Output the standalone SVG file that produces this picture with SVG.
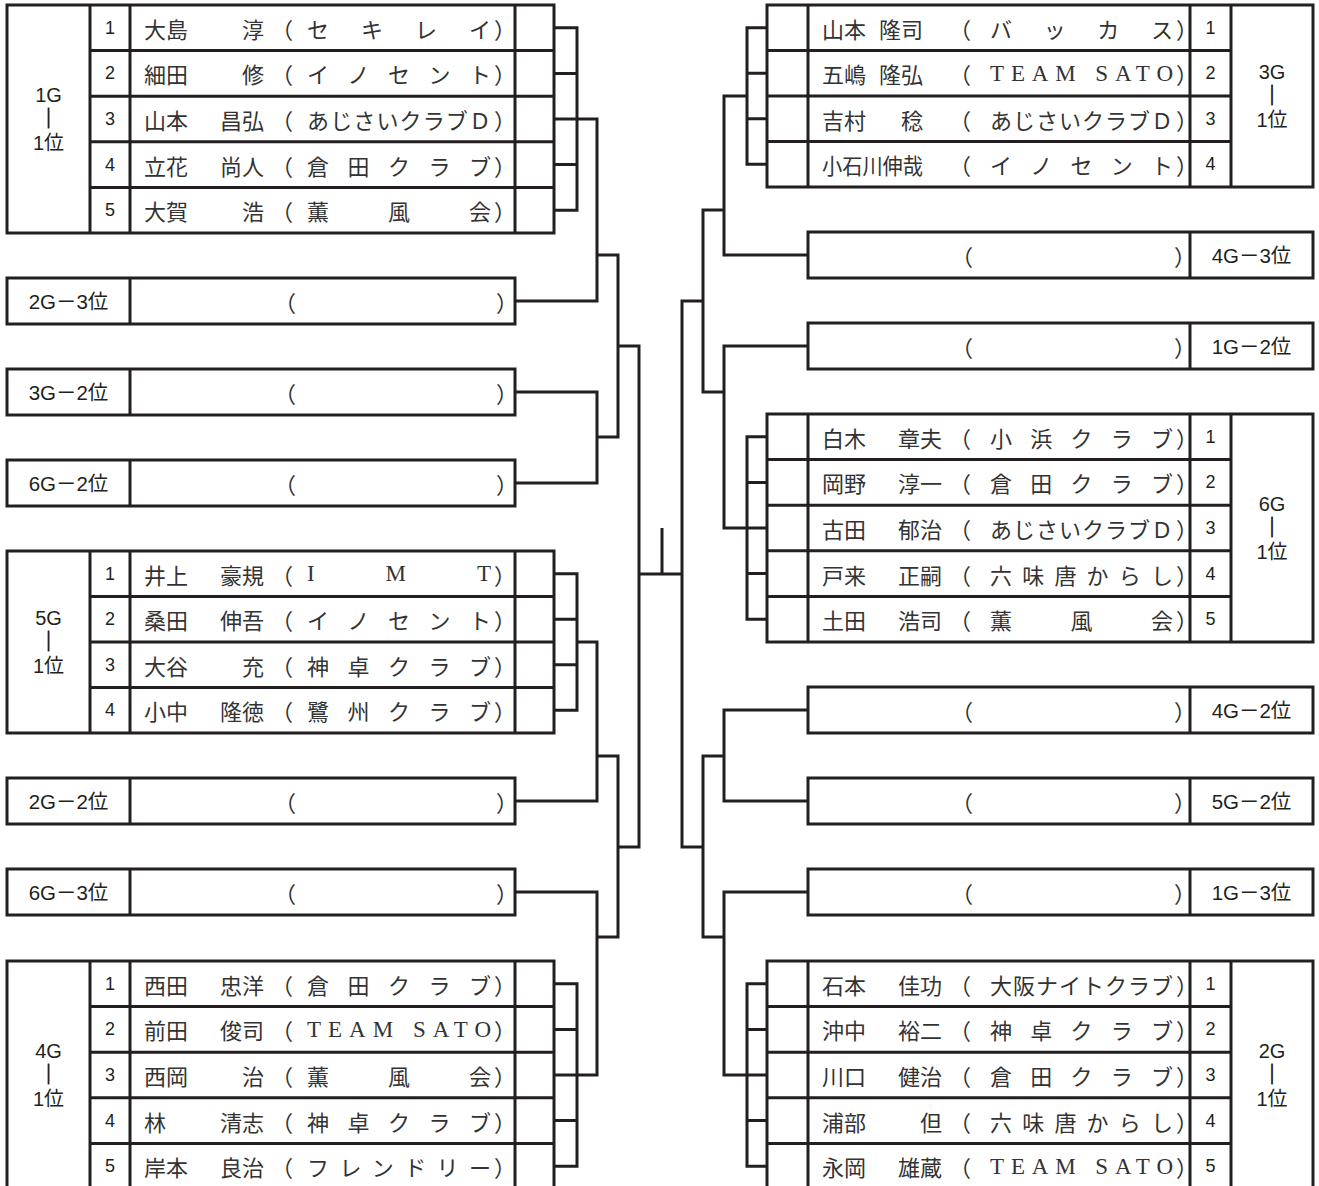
<svg xmlns="http://www.w3.org/2000/svg" width="1319" height="1186" viewBox="0 0 1319 1186">
<style>
.bx{fill:#fff;stroke:#231f20;stroke-width:3}
.ln{fill:none;stroke:#231f20;stroke-width:3}
.nm{font-family:"Noto Sans CJK JP",sans-serif;font-size:22px;fill:#333;dominant-baseline:central}
.e{text-anchor:end}
.lat{font-family:"Liberation Serif","Noto Sans CJK JP",serif;font-size:23px}
.lb{font-family:"Liberation Sans","Noto Sans CJK JP",sans-serif;font-size:20px;fill:#231f20;text-anchor:middle;dominant-baseline:central}
.vb{stroke:#231f20;stroke-width:0.8}
.no{font-size:18px}
.el{font-size:20.5px}
</style>
<rect width="1319" height="1186" fill="#fff"/>
<g id="connectors">
<path class="ln" d="M554,27.8H577V210.2H554M554,73.4H577M554,164.6H577M554,119H597V301H515M597,255H618V437H597M515,392H597V483H515M618,346H639V847H618M639,574H682M662,528V574"/>
<path class="ln" d="M554,573.75H577V710.25H554M554,619.25H577M554,664.75H577M577,642H597V801H515M597,756H618V937H597M515,892H597V1075H554M554,983.8H577V1166.2H554M554,1029.4H577M554,1120.6H577"/>
<path class="ln" d="M767,27.75H747V164.25H767M767,73.25H747M767,118.75H747M747,96H724V255H808M724,210H703V392H724M703,301H682V847H703M808,346H724V528H767M767,436.8H747V619.2H767M767,482.4H747M767,573.6H747"/>
<path class="ln" d="M808,710H724V801H808M724,756H703V937H724M808,892H724V1075H767M767,983.8H747V1166.2H767M767,1029.4H747M767,1120.6H747"/>
</g>
<g id="grp-1G">
<rect class="bx" x="7" y="5" width="547" height="228"/>
<path class="ln" d="M90,5V233M130,5V233M515,5V233M90,50.6H554M90,96.2H554M90,141.8H554M90,187.4H554"/>
<text class="lb" x="48.5" y="95">1G</text><text class="lb vb" x="48.5" y="119">｜</text><text class="lb" x="48.5" y="143">1位</text>
<text class="lb no" x="110" y="27.8">1</text><text class="lb no" x="110" y="73.4">2</text><text class="lb no" x="110" y="119">3</text><text class="lb no" x="110" y="164.6">4</text><text class="lb no" x="110" y="210.2">5</text>
<text class="nm" x="144" y="27.8">大島</text><text class="nm e" x="264" y="27.8">淳</text><text class="nm" x="271" y="27.8">（</text><text class="nm" x="307" y="27.8" textLength="184" lengthAdjust="spacing">セキレイ</text><text class="nm" x="494" y="27.8">）</text>
<text class="nm" x="144" y="73.4">細田</text><text class="nm e" x="264" y="73.4">修</text><text class="nm" x="271" y="73.4">（</text><text class="nm" x="307" y="73.4" textLength="184" lengthAdjust="spacing">イノセント</text><text class="nm" x="494" y="73.4">）</text>
<text class="nm" x="144" y="119">山本</text><text class="nm e" x="264" y="119">昌弘</text><text class="nm" x="271" y="119">（</text><text class="nm" x="307" y="119" textLength="184" lengthAdjust="spacing">あじさいクラブＤ</text><text class="nm" x="494" y="119">）</text>
<text class="nm" x="144" y="164.6">立花</text><text class="nm e" x="264" y="164.6">尚人</text><text class="nm" x="271" y="164.6">（</text><text class="nm" x="307" y="164.6" textLength="184" lengthAdjust="spacing">倉田クラブ</text><text class="nm" x="494" y="164.6">）</text>
<text class="nm" x="144" y="210.2">大賀</text><text class="nm e" x="264" y="210.2">浩</text><text class="nm" x="271" y="210.2">（</text><text class="nm" x="307" y="210.2" textLength="184" lengthAdjust="spacing">薫風会</text><text class="nm" x="494" y="210.2">）</text>
</g>
<g id="slot-2G-3">
<rect class="bx" x="7" y="278" width="508" height="46"/><path class="ln" d="M130,278V324"/>
<text class="lb el" x="68.5" y="301">2G－3位</text><text class="nm" x="274" y="301">（</text><text class="nm" x="496" y="301">）</text>
</g>
<g id="slot-3G-2">
<rect class="bx" x="7" y="369" width="508" height="46"/><path class="ln" d="M130,369V415"/>
<text class="lb el" x="68.5" y="392">3G－2位</text><text class="nm" x="274" y="392">（</text><text class="nm" x="496" y="392">）</text>
</g>
<g id="slot-6G-2">
<rect class="bx" x="7" y="460" width="508" height="46"/><path class="ln" d="M130,460V506"/>
<text class="lb el" x="68.5" y="483">6G－2位</text><text class="nm" x="274" y="483">（</text><text class="nm" x="496" y="483">）</text>
</g>
<g id="grp-5G">
<rect class="bx" x="7" y="551" width="547" height="182"/>
<path class="ln" d="M90,551V733M130,551V733M515,551V733M90,596.5H554M90,642H554M90,687.5H554"/>
<text class="lb" x="48.5" y="618">5G</text><text class="lb vb" x="48.5" y="642">｜</text><text class="lb" x="48.5" y="666">1位</text>
<text class="lb no" x="110" y="573.75">1</text><text class="lb no" x="110" y="619.25">2</text><text class="lb no" x="110" y="664.75">3</text><text class="lb no" x="110" y="710.25">4</text>
<text class="nm" x="144" y="573.75">井上</text><text class="nm e" x="264" y="573.75">豪規</text><text class="nm" x="271" y="573.75">（</text><text class="nm lat" x="307" y="573.75" textLength="184" lengthAdjust="spacing">IMT</text><text class="nm" x="494" y="573.75">）</text>
<text class="nm" x="144" y="619.25">桑田</text><text class="nm e" x="264" y="619.25">伸吾</text><text class="nm" x="271" y="619.25">（</text><text class="nm" x="307" y="619.25" textLength="184" lengthAdjust="spacing">イノセント</text><text class="nm" x="494" y="619.25">）</text>
<text class="nm" x="144" y="664.75">大谷</text><text class="nm e" x="264" y="664.75">充</text><text class="nm" x="271" y="664.75">（</text><text class="nm" x="307" y="664.75" textLength="184" lengthAdjust="spacing">神卓クラブ</text><text class="nm" x="494" y="664.75">）</text>
<text class="nm" x="144" y="710.25">小中</text><text class="nm e" x="264" y="710.25">隆徳</text><text class="nm" x="271" y="710.25">（</text><text class="nm" x="307" y="710.25" textLength="184" lengthAdjust="spacing">鷺州クラブ</text><text class="nm" x="494" y="710.25">）</text>
</g>
<g id="slot-2G-2">
<rect class="bx" x="7" y="778" width="508" height="46"/><path class="ln" d="M130,778V824"/>
<text class="lb el" x="68.5" y="801">2G－2位</text><text class="nm" x="274" y="801">（</text><text class="nm" x="496" y="801">）</text>
</g>
<g id="slot-6G-3">
<rect class="bx" x="7" y="869" width="508" height="46"/><path class="ln" d="M130,869V915"/>
<text class="lb el" x="68.5" y="892">6G－3位</text><text class="nm" x="274" y="892">（</text><text class="nm" x="496" y="892">）</text>
</g>
<g id="grp-4G">
<rect class="bx" x="7" y="961" width="547" height="228"/>
<path class="ln" d="M90,961V1189M130,961V1189M515,961V1189M90,1006.6H554M90,1052.2H554M90,1097.8H554M90,1143.4H554"/>
<text class="lb" x="48.5" y="1051">4G</text><text class="lb vb" x="48.5" y="1075">｜</text><text class="lb" x="48.5" y="1099">1位</text>
<text class="lb no" x="110" y="983.8">1</text><text class="lb no" x="110" y="1029.4">2</text><text class="lb no" x="110" y="1075">3</text><text class="lb no" x="110" y="1120.6">4</text><text class="lb no" x="110" y="1166.2">5</text>
<text class="nm" x="144" y="983.8">西田</text><text class="nm e" x="264" y="983.8">忠洋</text><text class="nm" x="271" y="983.8">（</text><text class="nm" x="307" y="983.8" textLength="184" lengthAdjust="spacing">倉田クラブ</text><text class="nm" x="494" y="983.8">）</text>
<text class="nm" x="144" y="1029.4">前田</text><text class="nm e" x="264" y="1029.4">俊司</text><text class="nm" x="271" y="1029.4">（</text><text class="nm lat" x="307" y="1029.4" textLength="184" lengthAdjust="spacing">TEAM SATO</text><text class="nm" x="494" y="1029.4">）</text>
<text class="nm" x="144" y="1075">西岡</text><text class="nm e" x="264" y="1075">治</text><text class="nm" x="271" y="1075">（</text><text class="nm" x="307" y="1075" textLength="184" lengthAdjust="spacing">薫風会</text><text class="nm" x="494" y="1075">）</text>
<text class="nm" x="144" y="1120.6">林</text><text class="nm e" x="264" y="1120.6">清志</text><text class="nm" x="271" y="1120.6">（</text><text class="nm" x="307" y="1120.6" textLength="184" lengthAdjust="spacing">神卓クラブ</text><text class="nm" x="494" y="1120.6">）</text>
<text class="nm" x="144" y="1166.2">岸本</text><text class="nm e" x="264" y="1166.2">良治</text><text class="nm" x="271" y="1166.2">（</text><text class="nm" x="307" y="1166.2" textLength="184" lengthAdjust="spacing">フレンドリー</text><text class="nm" x="494" y="1166.2">）</text>
</g>
<g id="grp-3G">
<rect class="bx" x="767" y="5" width="546" height="182"/>
<path class="ln" d="M808,5V187M1190,5V187M1231,5V187M767,50.5H1231M767,96H1231M767,141.5H1231"/>
<text class="lb" x="1272" y="72">3G</text><text class="lb vb" x="1272" y="96">｜</text><text class="lb" x="1272" y="120">1位</text>
<text class="lb no" x="1210.5" y="27.75">1</text><text class="lb no" x="1210.5" y="73.25">2</text><text class="lb no" x="1210.5" y="118.75">3</text><text class="lb no" x="1210.5" y="164.25">4</text>
<text class="nm" x="822" y="27.75">山本</text><text class="nm e" x="923" y="27.75">隆司</text><text class="nm" x="949" y="27.75">（</text><text class="nm" x="990" y="27.75" textLength="183" lengthAdjust="spacing">バッカス</text><text class="nm" x="1176" y="27.75">）</text>
<text class="nm" x="822" y="73.25">五嶋</text><text class="nm e" x="923" y="73.25">隆弘</text><text class="nm" x="949" y="73.25">（</text><text class="nm lat" x="990" y="73.25" textLength="183" lengthAdjust="spacing">TEAM SATO</text><text class="nm" x="1176" y="73.25">）</text>
<text class="nm" x="822" y="118.75">吉村</text><text class="nm e" x="923" y="118.75">稔</text><text class="nm" x="949" y="118.75">（</text><text class="nm" x="990" y="118.75" textLength="183" lengthAdjust="spacing">あじさいクラブＤ</text><text class="nm" x="1176" y="118.75">）</text>
<text class="nm" x="822" y="164.25" textLength="101" lengthAdjust="spacingAndGlyphs">小石川伸哉</text><text class="nm" x="949" y="164.25">（</text><text class="nm" x="990" y="164.25" textLength="183" lengthAdjust="spacing">イノセント</text><text class="nm" x="1176" y="164.25">）</text>
</g>
<g id="slot-4G-3">
<rect class="bx" x="808" y="232" width="505" height="46"/><path class="ln" d="M1190,232V278"/>
<text class="lb el" x="1251.5" y="255">4G－3位</text><text class="nm" x="951" y="255">（</text><text class="nm" x="1174" y="255">）</text>
</g>
<g id="slot-1G-2">
<rect class="bx" x="808" y="323" width="505" height="46"/><path class="ln" d="M1190,323V369"/>
<text class="lb el" x="1251.5" y="346">1G－2位</text><text class="nm" x="951" y="346">（</text><text class="nm" x="1174" y="346">）</text>
</g>
<g id="grp-6G">
<rect class="bx" x="767" y="414" width="546" height="228"/>
<path class="ln" d="M808,414V642M1190,414V642M1231,414V642M767,459.6H1231M767,505.2H1231M767,550.8H1231M767,596.4H1231"/>
<text class="lb" x="1272" y="504">6G</text><text class="lb vb" x="1272" y="528">｜</text><text class="lb" x="1272" y="552">1位</text>
<text class="lb no" x="1210.5" y="436.8">1</text><text class="lb no" x="1210.5" y="482.4">2</text><text class="lb no" x="1210.5" y="528">3</text><text class="lb no" x="1210.5" y="573.6">4</text><text class="lb no" x="1210.5" y="619.2">5</text>
<text class="nm" x="822" y="436.8">白木</text><text class="nm e" x="942" y="436.8">章夫</text><text class="nm" x="949" y="436.8">（</text><text class="nm" x="990" y="436.8" textLength="183" lengthAdjust="spacing">小浜クラブ</text><text class="nm" x="1176" y="436.8">）</text>
<text class="nm" x="822" y="482.4">岡野</text><text class="nm e" x="942" y="482.4">淳一</text><text class="nm" x="949" y="482.4">（</text><text class="nm" x="990" y="482.4" textLength="183" lengthAdjust="spacing">倉田クラブ</text><text class="nm" x="1176" y="482.4">）</text>
<text class="nm" x="822" y="528">古田</text><text class="nm e" x="942" y="528">郁治</text><text class="nm" x="949" y="528">（</text><text class="nm" x="990" y="528" textLength="183" lengthAdjust="spacing">あじさいクラブＤ</text><text class="nm" x="1176" y="528">）</text>
<text class="nm" x="822" y="573.6">戸来</text><text class="nm e" x="942" y="573.6">正嗣</text><text class="nm" x="949" y="573.6">（</text><text class="nm" x="990" y="573.6" textLength="183" lengthAdjust="spacing">六味唐からし</text><text class="nm" x="1176" y="573.6">）</text>
<text class="nm" x="822" y="619.2">土田</text><text class="nm e" x="942" y="619.2">浩司</text><text class="nm" x="949" y="619.2">（</text><text class="nm" x="990" y="619.2" textLength="183" lengthAdjust="spacing">薫風会</text><text class="nm" x="1176" y="619.2">）</text>
</g>
<g id="slot-4G-2">
<rect class="bx" x="808" y="687" width="505" height="46"/><path class="ln" d="M1190,687V733"/>
<text class="lb el" x="1251.5" y="710">4G－2位</text><text class="nm" x="951" y="710">（</text><text class="nm" x="1174" y="710">）</text>
</g>
<g id="slot-5G-2">
<rect class="bx" x="808" y="778" width="505" height="46"/><path class="ln" d="M1190,778V824"/>
<text class="lb el" x="1251.5" y="801">5G－2位</text><text class="nm" x="951" y="801">（</text><text class="nm" x="1174" y="801">）</text>
</g>
<g id="slot-1G-3">
<rect class="bx" x="808" y="869" width="505" height="46"/><path class="ln" d="M1190,869V915"/>
<text class="lb el" x="1251.5" y="892">1G－3位</text><text class="nm" x="951" y="892">（</text><text class="nm" x="1174" y="892">）</text>
</g>
<g id="grp-2G">
<rect class="bx" x="767" y="961" width="546" height="228"/>
<path class="ln" d="M808,961V1189M1190,961V1189M1231,961V1189M767,1006.6H1231M767,1052.2H1231M767,1097.8H1231M767,1143.4H1231"/>
<text class="lb" x="1272" y="1051">2G</text><text class="lb vb" x="1272" y="1075">｜</text><text class="lb" x="1272" y="1099">1位</text>
<text class="lb no" x="1210.5" y="983.8">1</text><text class="lb no" x="1210.5" y="1029.4">2</text><text class="lb no" x="1210.5" y="1075">3</text><text class="lb no" x="1210.5" y="1120.6">4</text><text class="lb no" x="1210.5" y="1166.2">5</text>
<text class="nm" x="822" y="983.8">石本</text><text class="nm e" x="942" y="983.8">佳功</text><text class="nm" x="949" y="983.8">（</text><text class="nm" x="990" y="983.8" textLength="183" lengthAdjust="spacing">大阪ナイトクラブ</text><text class="nm" x="1176" y="983.8">）</text>
<text class="nm" x="822" y="1029.4">沖中</text><text class="nm e" x="942" y="1029.4">裕二</text><text class="nm" x="949" y="1029.4">（</text><text class="nm" x="990" y="1029.4" textLength="183" lengthAdjust="spacing">神卓クラブ</text><text class="nm" x="1176" y="1029.4">）</text>
<text class="nm" x="822" y="1075">川口</text><text class="nm e" x="942" y="1075">健治</text><text class="nm" x="949" y="1075">（</text><text class="nm" x="990" y="1075" textLength="183" lengthAdjust="spacing">倉田クラブ</text><text class="nm" x="1176" y="1075">）</text>
<text class="nm" x="822" y="1120.6">浦部</text><text class="nm e" x="942" y="1120.6">但</text><text class="nm" x="949" y="1120.6">（</text><text class="nm" x="990" y="1120.6" textLength="183" lengthAdjust="spacing">六味唐からし</text><text class="nm" x="1176" y="1120.6">）</text>
<text class="nm" x="822" y="1166.2">永岡</text><text class="nm e" x="942" y="1166.2">雄蔵</text><text class="nm" x="949" y="1166.2">（</text><text class="nm lat" x="990" y="1166.2" textLength="183" lengthAdjust="spacing">TEAM SATO</text><text class="nm" x="1176" y="1166.2">）</text>
</g>
</svg>
